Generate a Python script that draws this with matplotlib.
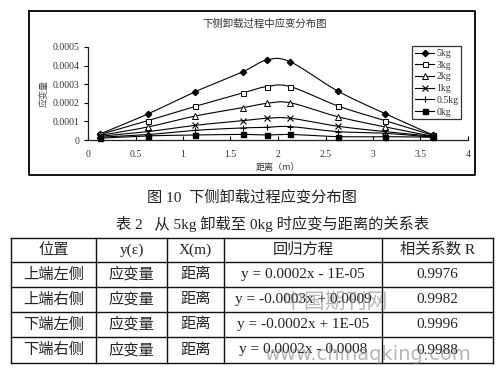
import numpy as np
import matplotlib
matplotlib.use("Agg")
import matplotlib.pyplot as plt
from matplotlib.lines import Line2D

# ---------------- data ----------------
distance = [0.13, 0.63, 1.13, 1.63, 1.88, 2.13, 2.63, 3.13, 3.63]
strain_5kg = [0.000033, 0.00014, 0.00026, 0.000367, 0.00043, 0.00042, 0.000263, 0.000141, 0.000027]
strain_3kg = [0.00003, 0.000104, 0.000181, 0.000253, 0.000287, 0.000287, 0.000183, 0.000104, 0.000025]
strain_2kg = [0.000025, 0.00007, 0.000129, 0.000174, 0.000197, 0.0002, 0.000125, 0.00007, 0.00002]
strain_1kg = [0.00002, 0.000045, 0.000079, 0.000104, 0.000117, 0.000117, 0.000074, 0.000045, 0.00002]
strain_05kg = [0.000015, 0.000029, 0.000052, 0.000065, 0.000068, 0.000072, 0.000045, 0.000036, 0.000015]
strain_0kg = [0.00001, 0.000022, 0.000027, 0.00003, 0.000027, 0.00003, 0.000018, 0.000018, 0.000015]
series_labels = ["5kg", "3kg", "2kg", "1kg", "0.5kg", "0kg"]

x_ticks = [0, 0.5, 1, 1.5, 2, 2.5, 3, 3.5, 4]
y_ticks = [0, 0.0001, 0.0002, 0.0003, 0.0004, 0.0005]

chart_title = "下侧卸载过程中应变分布图"
x_label = "距离（m）"
y_label = "应变量"
caption_fig = "图 10  下侧卸载过程应变分布图"
caption_table = "表 2   从 5kg 卸载至 0kg 时应变与距离的关系表"

table_header = ["位置", "y(ε)", "X(m)", "回归方程", "相关系数 R"]
table_position = ["上端左侧", "上端右侧", "下端左侧", "下端右侧"]
table_y = ["应变量", "应变量", "应变量", "应变量"]
table_x = ["距离", "距离", "距离", "距离"]
table_equation = ["y = 0.0002x - 1E-05", "y = -0.0003x + 0.0009",
                  "y = -0.0002x + 1E-05", "y = 0.0002x - 0.0008"]
table_r = ["0.9976", "0.9982", "0.9996", "0.9988"]

# ---------------- figure ----------------
W, H = 501, 367
fig = plt.figure(figsize=(W / 100, H / 100), dpi=100)
fig.patch.set_facecolor("white")

def px_axes(left, top, right, bottom, **kw):
    return fig.add_axes([left / W, 1 - bottom / H, (right - left) / W, (bottom - top) / H], **kw)

# background overlay in pixel coords
bg = px_axes(0, 0, W, H)
bg.set_xlim(0, W)
bg.set_ylim(H, 0)
bg.axis("off")

CJK = ["Noto Sans CJK SC", "DejaVu Sans"]
SER = ["Liberation Serif", "Noto Sans CJK SC"]
TXT = "#222222"

# chart border
bg.plot([29, 475, 475, 29, 29], [11, 11, 175, 175, 11], color="black", lw=1.3)
bg.text(265, 24, chart_title, family=CJK, fontsize=7.5, color="#333333",
        ha="center", va="center")

# ---------------- chart axes ----------------
ax = px_axes(88, 47, 468, 140)
ax.set_xlim(0, 4)
ax.set_ylim(0, 0.0005)
for s in ("top", "right"):
    ax.spines[s].set_visible(False)
for s in ("left", "bottom"):
    ax.spines[s].set_linewidth(0.9)
    ax.spines[s].set_color("#222222")
ax.patch.set_alpha(0)

ax.set_xticks(x_ticks)
ax.set_xticklabels([f"{v:g}" for v in x_ticks])
ax.set_yticks(y_ticks)
ax.set_yticklabels([f"{v:.4f}" if v else "0" for v in y_ticks])
ax.tick_params(axis="x", direction="in", length=3, width=0.8, pad=7,
               labelsize=7, labelcolor="#333333")
ax.tick_params(axis="y", direction="out", length=3, width=0.8, pad=3,
               labelsize=7, labelcolor="#333333")
for lab in ax.get_xticklabels() + ax.get_yticklabels():
    lab.set_family(["Liberation Serif"])

ax.set_xlabel(x_label, family=CJK, fontsize=6.5, color="#333333", labelpad=3)
ax.set_ylabel(y_label, family=CJK, fontsize=6.5, color="#555555", labelpad=3)

SX, SY = 95.0, 186000.0

def smooth(xs, ys, n=24):
    P = np.column_stack([np.asarray(xs) * SX, np.asarray(ys) * SY])
    P = np.vstack([P[0], P, P[-1]])
    out = []
    for i in range(1, len(P) - 2):
        p0, p1, p2, p3 = P[i - 1], P[i], P[i + 1], P[i + 2]
        t = np.linspace(0, 1, n)[:, None]
        pts = 0.5 * (2 * p1 + (-p0 + p2) * t + (2 * p0 - 5 * p1 + 4 * p2 - p3) * t ** 2
                     + (-p0 + 3 * p1 - 3 * p2 + p3) * t ** 3)
        out.append(pts if i == 1 else pts[1:])
    out = np.vstack(out)
    return out[:, 0] / SX, out[:, 1] / SY

series = [strain_5kg, strain_3kg, strain_2kg, strain_1kg, strain_05kg, strain_0kg]
styles = [
    dict(marker="D", ms=3.2, mfc="black", mec="black"),
    dict(marker="s", ms=3.6, mfc="white", mec="black", mew=0.7),
    dict(marker="^", ms=3.8, mfc="white", mec="black", mew=0.7),
    dict(marker="x", ms=3.8, mfc="none", mec="black", mew=0.8),
    dict(marker="+", ms=4.5, mfc="none", mec="black", mew=0.8),
    dict(marker="s", ms=3.6, mfc="black", mec="black"),
]
handles = []
for ys, st, lab in zip(series, styles, series_labels):
    sx_, sy_ = smooth(distance, ys)
    ax.plot(sx_, sy_, color="black", lw=0.8, zorder=2, clip_on=False)
    ax.plot(distance, ys, ls="none", zorder=3, clip_on=False, **st)
    handles.append(Line2D([], [], color="black", lw=0.8, label=lab, **st))

leg = ax.legend(handles=handles, loc="upper left",
                bbox_to_anchor=((412 - 88) / 380, 1 + (47 - 46) / 93),
                frameon=True, fancybox=False, edgecolor="black",
                prop={"family": "Liberation Serif", "size": 7},
                handlelength=2.0, handletextpad=0.2, labelspacing=0.28,
                borderpad=0.3, borderaxespad=0)
leg.get_frame().set_linewidth(0.9)
for t in leg.get_texts():
    t.set_color("#333333")

# ---------------- captions ----------------
bg.text(252, 197, caption_fig, family=SER, fontsize=11, color=TXT,
        ha="center", va="center")
bg.text(273, 224, caption_table, family=SER, fontsize=11, color=TXT,
        ha="center", va="center")

# ---------------- table ----------------
col_edges = [11, 96, 167, 224, 382, 493]
row_edges = [238, 262, 287, 312, 337, 363]
for x in col_edges:
    bg.plot([x, x], [row_edges[0], row_edges[-1]], color="#111111", lw=1.0)
for y in row_edges:
    bg.plot([col_edges[0], col_edges[-1]], [y, y], color="#111111", lw=1.0)

rows = [table_header] + [list(r) for r in zip(table_position, table_y, table_x,
                                             table_equation, table_r)]
for ri, row in enumerate(rows):
    yc = (row_edges[ri] + row_edges[ri + 1]) / 2
    for ci, cell in enumerate(row):
        xc = (col_edges[ci] + col_edges[ci + 1]) / 2
        bg.text(xc, yc, cell, family=SER, fontsize=11, color=TXT,
                ha="center", va="center")

# ---------------- watermark ----------------
bg.text(335, 302, "中国期刊网", family=CJK, fontsize=15, color="#7a7a7a",
        alpha=0.55, ha="center", va="center")
bg.text(368, 354, "www.chinaqking.com", family=["DejaVu Sans"], fontsize=14,
        color="#7a7a7a", alpha=0.55, ha="center", va="center")

fig.savefig("out.png", dpi=100, facecolor="white")
